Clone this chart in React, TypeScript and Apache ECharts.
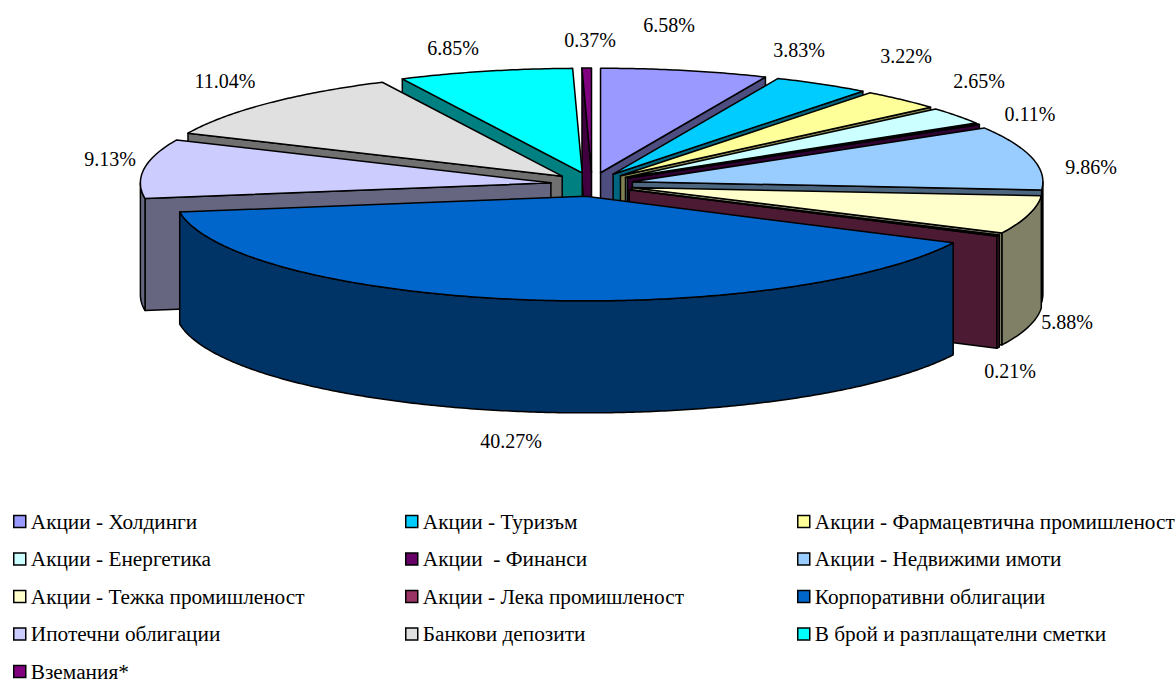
import React, { useEffect, useRef } from "react";
import * as echarts from "echarts";

const CATEGORIES = [
  "Акции - Холдинги",
  "Акции - Туризъм",
  "Акции - Фармацевтична промишленост",
  "Акции - Енергетика",
  "Акции  - Финанси",
  "Акции - Недвижими имоти",
  "Акции - Тежка промишленост",
  "Акции - Лека промишленост",
  "Корпоративни облигации",
  "Ипотечни облигации",
  "Банкови депозити",
  "В брой и разплащателни сметки",
  "Вземания*",
];
const VALUES = [6.58, 3.83, 3.22, 2.65, 0.11, 9.86, 5.88, 0.21, 40.27, 9.13, 11.04, 6.85, 0.37];
const TOP_COLORS = ["#9999FF", "#00CCFF", "#FFFF99", "#CCFFFF", "#660066", "#99CCFF", "#FFFFCC", "#993366", "#0066CC", "#CCCCFF", "#E0E0E0", "#00FFFF", "#800080"];
const SIDE_COLORS = ["#4D4D80", "#006680", "#808050", "#668080", "#330033", "#4D6680", "#808066", "#4D1A33", "#003366", "#666680", "#707070", "#008080", "#400040"];
const PAINT_ORDER = [12, 0, 11, 1, 10, 2, 9, 3, 4, 5, 6, 7, 8];
const LABEL_ANCHORS = [
  [669, 25], [799, 50], [906, 56], [979, 81], [1030, 114], [1091, 167], [1067, 322],
  [1010, 371], [511, 441], [110, 159], [225, 81], [453, 48], [590, 40],
];
const LEGEND_COLUMNS = [
  { left: 13, items: [0, 3, 6, 9, 12] },
  { left: 405, items: [1, 4, 7, 10] },
  { left: 797, items: [2, 5, 8, 11] },
];

const FONT = '"Liberation Serif", "Times New Roman", serif';
const CX = 592, CY = 184.5, RX = 410.5, RY = 104.5, DEPTH = 112, EXPLODE_X = 41.5, EXPLODE_Y = 12;
const TOTAL = VALUES.reduce((a, b) => a + b, 0);

const rad = (i: number) => (i / TOTAL) * Math.PI * 2;

function renderSlice(index: number) {
  return (_params: any, api: any) => {
    const value = api.value(0);
    const before = VALUES.slice(0, index).reduce((a, b) => a + b, 0);
    const a0 = rad(before);
    const a1 = rad(before + value);
    const mid = (a0 + a1) / 2;
    const ax = CX + EXPLODE_X * Math.sin(mid);
    const ay = CY - EXPLODE_Y * Math.cos(mid);
    const rim = (t: number, d = 0) => [ax + RX * Math.sin(t), ay - RY * Math.cos(t) + d];
    const arc = (s: number, e: number, d = 0) => {
      const n = Math.max(2, Math.ceil(Math.abs(e - s) / 0.01));
      const pts: number[][] = [];
      for (let k = 0; k <= n; k++) pts.push(rim(s + ((e - s) * k) / n, d));
      return pts;
    };
    const edge = { stroke: "#000", lineWidth: 1.5, lineJoin: "round" };
    const side = SIDE_COLORS[index];
    const poly = (points: number[][], fill: string) => ({ type: "polygon", shape: { points }, style: { fill, ...edge } });
    const children: any[] = [];
    const cut = (t: number) => {
      const p = rim(t);
      children.push(poly([[ax, ay], p, [p[0], p[1] + DEPTH], [ax, ay + DEPTH]], side));
    };
    if (a1 <= Math.PI) cut(a1);
    else if (a0 >= Math.PI) cut(a0);
    const vs = Math.max(a0, Math.PI / 2);
    const ve = Math.min(a1, (Math.PI * 3) / 2);
    if (ve > vs) {
      children.push(poly([...arc(vs, ve), ...arc(ve, vs, DEPTH)], side));
    }
    children.push(poly([[ax, ay], ...arc(a0, a1)], TOP_COLORS[index]));
    const [lx, ly] = LABEL_ANCHORS[index];
    children.push({
      type: "text",
      x: lx,
      y: ly,
      style: { text: value.toFixed(2) + "%", fill: "#000", font: `20px ${FONT}`, align: "center", verticalAlign: "middle" },
    });
    return { type: "group", children };
  };
}

export default function App() {
  const ref = useRef<HTMLDivElement>(null);
  useEffect(() => {
    document.body.style.margin = "0";
    const chart = echarts.init(ref.current!, undefined, { renderer: "svg" });
    chart.setOption({
      animation: false,
      backgroundColor: "#fff",
      legend: LEGEND_COLUMNS.map((c) => ({
        left: c.left,
        top: 511,
        height: 200,
        padding: 0,
        orient: "vertical",
        selectedMode: false,
        itemWidth: 12,
        itemHeight: 12,
        itemGap: 16.5,
        icon: "rect",
        itemStyle: { borderColor: "#000", borderWidth: 1.5 },
        textStyle: { fontFamily: FONT, fontSize: 21.3, lineHeight: 14, color: "#000", padding: 0 },
        data: c.items.map((i) => CATEGORIES[i]),
      })),
      series: CATEGORIES.map((name, i) => ({
        type: "custom",
        name,
        coordinateSystem: "none",
        silent: true,
        z: 2 + PAINT_ORDER.indexOf(i),
        itemStyle: { color: TOP_COLORS[i] },
        renderItem: renderSlice(i),
        data: [[VALUES[i]]],
      })),
    });
    return () => chart.dispose();
  }, []);
  return <div ref={ref} style={{ width: 1175, height: 682 }} />;
}
